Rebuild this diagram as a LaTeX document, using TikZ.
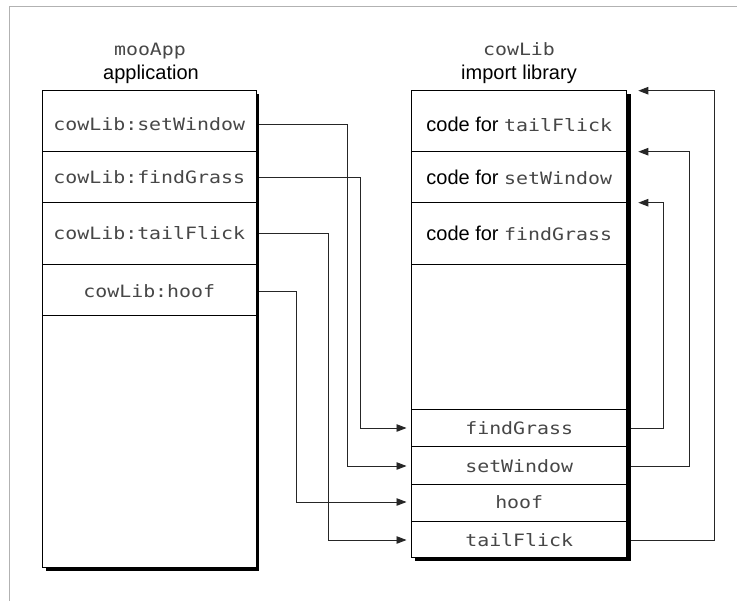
\documentclass[tikz,border=0pt]{standalone}
\usepackage{fontspec}
\setmainfont{Liberation Sans}
\newfontfamily\monof[FakeStretch=1.17]{DejaVu Sans Mono}
\usetikzlibrary{arrows.meta}
\newcommand\mtxt[1]{{\monof\fontsize{17bp}{20bp}\selectfont\textcolor{black!72}{#1}}}
\begin{document}
\begin{tikzpicture}[x=1bp,y=-1bp,
  mono/.style={font=\monof\fontsize{17bp}{20bp}\selectfont, text=black!72},
  sans/.style={font=\fontsize{20bp}{24bp}\selectfont},
  lrow/.style={mono, minimum width=213.5bp, inner sep=0pt},
  rrow/.style={mono, minimum width=215bp, inner sep=0pt},
  crow/.style={sans, minimum width=215bp, inner sep=0pt},
  conn/.style={draw=black!85, line width=0.9bp},
  arr/.style={conn, -{Triangle[length=10bp,width=7.5bp]}},
  sep/.style={line width=0.8bp},
  boxline/.style={fill=white, draw=black, line width=1bp},
]
\useasboundingbox (0,0) rectangle (737,601);
\fill[white] (0,0) rectangle (737,601);
\draw[black!30, line width=1.5bp] (9.5,601) -- (9.5,6.5) -- (737,6.5);

% left box
\fill[black] (46,94) rectangle (259.2,570.5);
\filldraw[boxline] (42.5,90.7) rectangle (256,567);
\foreach \yy in {151.7,202.7,264.3,315} \draw[sep] (42.5,\yy) -- (256,\yy);

% right box
\fill[black] (415,94.5) rectangle (630.7,560.7);
\filldraw[boxline] (411.7,90.7) rectangle (626.7,557);
\foreach \yy in {151.7,202.7,264.3,409.3,446.7,484.3,521.7} \draw[sep] (411.7,\yy) -- (626.7,\yy);

% titles
\node[mono, anchor=base] (appname) at (150,56) {mooApp};
\node[sans, anchor=base] (applbl) at (151,80) {application};
\node[mono, anchor=base] (libname) at (519,56) {cowLib};
\node[sans, anchor=base] (liblbl) at (519,80) {import library};

% left rows
\node[lrow] (l1) at (149.25,124) {cowLib:setWindow};
\node[lrow] (l2) at (149.25,177) {cowLib:findGrass};
\node[lrow] (l3) at (149.25,233) {cowLib:tailFlick};
\node[lrow] (l4) at (149.25,291) {cowLib:hoof};

% right code rows
\node[crow] (c1) at (519.2,124) {code for \mtxt{tailFlick}};
\node[crow] (c2) at (519.2,177) {code for \mtxt{setWindow}};
\node[crow] (c3) at (519.2,233) {code for \mtxt{findGrass}};

% right lower rows
\node[rrow] (rfg) at (519.2,428) {findGrass};
\node[rrow] (rsw) at (519.2,466) {setWindow};
\node[rrow] (rho) at (519.2,502) {hoof};
\node[rrow] (rtf) at (519.2,540) {tailFlick};

% arrow targets on the right
\coordinate (t1) at (638.3,90.7);
\coordinate (t2) at (638.3,151.7);
\coordinate (t3) at (638.3,202.7);

% left connectors
\draw[arr] ([xshift=3bp]l1.east) -- ++(88,0) |- ([xshift=-5bp]rsw.west);
\draw[arr] ([xshift=3bp]l2.east) -- ++(101,0) |- ([xshift=-5bp]rfg.west);
\draw[arr] ([xshift=3bp]l3.east) -- ++(69.3,0) |- ([xshift=-5bp]rtf.west);
\draw[arr] ([xshift=3bp]l4.east) -- ++(37.7,0) |- ([xshift=-5bp]rho.west);

% right connectors
\draw[arr] ([xshift=4bp]rfg.east) -- ++(32.6,0) |- (t3);
\draw[arr] ([xshift=4bp]rsw.east) -- ++(58.3,0) |- (t2);
\draw[arr] ([xshift=4bp]rtf.east) -- ++(83.6,0) |- (t1);
\end{tikzpicture}
\end{document}
